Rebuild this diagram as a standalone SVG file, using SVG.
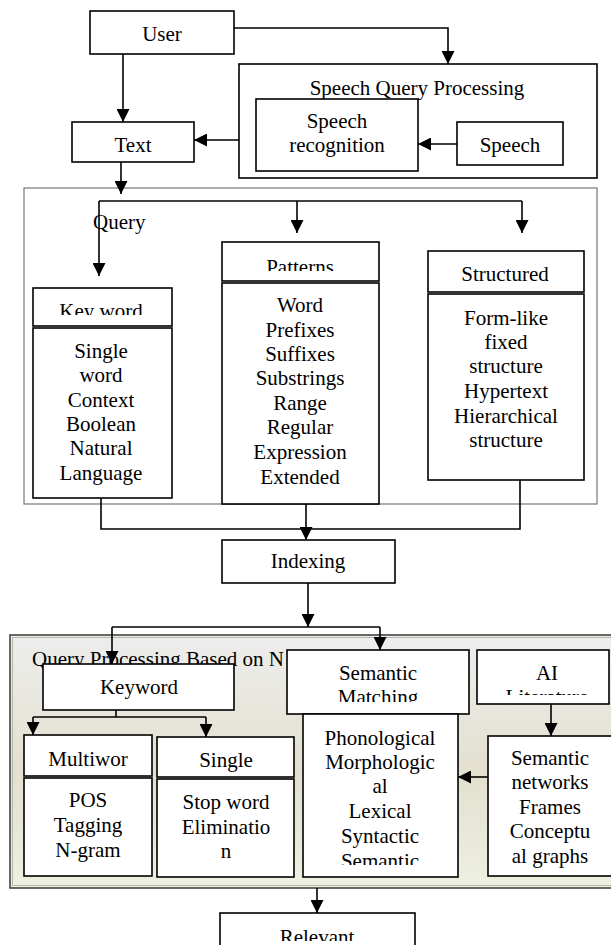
<svg xmlns="http://www.w3.org/2000/svg" width="611" height="945" viewBox="0 0 611 945">
<style>
  text { font-family: "Liberation Serif", "Times New Roman", serif; font-size: 21px; fill: #000; text-anchor: middle; }
  .box { fill: #fff; stroke: #000; stroke-width: 1.6; }
  .frame { fill: #fff; stroke: #777; stroke-width: 1.2; }
  .line { fill: none; stroke: #000; stroke-width: 1.6; }
  .arr { fill: none; stroke: #000; stroke-width: 1.6; marker-end: url(#ah); }
  .left { text-anchor: start; }
</style>
<defs>
  <marker id="ah" viewBox="0 0 10 10" refX="10" refY="5" markerWidth="13" markerHeight="13" markerUnits="userSpaceOnUse" orient="auto">
    <path d="M0,0 L10,5 L0,10 z" fill="#000"/>
  </marker>
  <linearGradient id="bg" x1="0" y1="0" x2="0" y2="1">
    <stop offset="0" stop-color="#ededed"/>
    <stop offset="0.55" stop-color="#e3e0cf"/>
    <stop offset="1" stop-color="#eef0e1"/>
  </linearGradient>
  <clipPath id="cKey"><rect x="33" y="288" width="139" height="27"/></clipPath>
  <clipPath id="cPat"><rect x="222" y="242" width="157" height="29"/></clipPath>
  <clipPath id="cMat"><rect x="287" y="650" width="182" height="52"/></clipPath>
  <clipPath id="cLit"><rect x="477" y="650" width="132" height="45"/></clipPath>
  <clipPath id="cPho"><rect x="303" y="714" width="155" height="151"/></clipPath>
  <clipPath id="cRel"><rect x="220" y="913" width="195" height="28"/></clipPath>
</defs>

<!-- Containers -->
<g id="speech-query-processing">
  <rect x="239" y="64" width="358" height="114" class="box"/>
  <text x="417" y="95">Speech Query Processing</text>
</g>
<g id="query">
  <rect x="24" y="188" width="573" height="316" class="frame"/>
  <text x="93" y="229" class="left">Query</text>
</g>
<g id="nlp-processing">
  <rect x="10" y="635" width="610" height="253" fill="url(#bg)" stroke="#444" stroke-width="1.6"/>
  <rect x="12.5" y="637.5" width="605" height="248" fill="none" stroke="#b5b5a8" stroke-width="1"/>
  <text x="32" y="666" class="left">Query Processing Based on N</text>
</g>

<!-- Connectors -->
<g id="connectors">
  <path d="M234,28 H448 V64" class="arr"/>
  <path d="M123,54 V122" class="arr"/>
  <path d="M239,140 H194" class="arr"/>
  <path d="M457,144 H418" class="arr"/>
  <path d="M121,162 V194" class="arr"/>
  <path d="M99,201 H522" class="line"/>
  <path d="M99,201 V276" class="arr"/>
  <path d="M297,201 V233" class="arr"/>
  <path d="M522,201 V233" class="arr"/>
  <path d="M101,498 V529 H520 V480" class="line"/>
  <path d="M306,504 V540" class="arr"/>
  <path d="M308,583 V627" class="arr"/>
  <path d="M112,627 H380" class="line"/>
  <path d="M112,627 V664" class="arr"/>
  <path d="M380,627 V650" class="arr"/>
  <path d="M116,710 V717" class="line"/>
  <path d="M33,717 H206" class="line"/>
  <path d="M33,717 V735" class="arr"/>
  <path d="M206,717 V737" class="arr"/>
  <path d="M551,704 V736" class="arr"/>
  <path d="M488,777 H458" class="arr"/>
  <path d="M317,888 V913" class="arr"/>
</g>

<!-- Nodes -->
<g id="user">
  <rect x="90" y="11" width="144" height="43" class="box"/>
  <text x="162" y="41">User</text>
</g>
<g id="text">
  <rect x="72" y="122" width="122" height="40" class="box"/>
  <text x="133" y="152">Text</text>
</g>
<g id="speech-recognition">
  <rect x="256" y="99" width="162" height="72" class="box"/>
  <text x="337" y="128">Speech</text>
  <text x="337" y="152">recognition</text>
</g>
<g id="speech">
  <rect x="457" y="122" width="106" height="43" class="box"/>
  <text x="510" y="152">Speech</text>
</g>

<g id="keyword-query">
  <rect x="33" y="288" width="139" height="38" class="box"/>
  <text x="101" y="318" clip-path="url(#cKey)">Key word</text>
  <rect x="33" y="328" width="139" height="170" class="box"/>
  <text x="101" y="358">Single</text>
  <text x="101" y="382">word</text>
  <text x="101" y="407">Context</text>
  <text x="101" y="431">Boolean</text>
  <text x="101" y="455">Natural</text>
  <text x="101" y="480">Language</text>
</g>
<g id="patterns">
  <rect x="222" y="242" width="157" height="39" class="box"/>
  <text x="300" y="274" clip-path="url(#cPat)">Patterns</text>
  <rect x="222" y="283" width="157" height="221" class="box"/>
  <text x="300" y="312">Word</text>
  <text x="300" y="337">Prefixes</text>
  <text x="300" y="361">Suffixes</text>
  <text x="300" y="385">Substrings</text>
  <text x="300" y="410">Range</text>
  <text x="300" y="434">Regular</text>
  <text x="300" y="459">Expression</text>
  <text x="300" y="484">Extended</text>
</g>
<g id="structured">
  <rect x="428" y="251" width="156" height="41" class="box"/>
  <text x="505" y="281">Structured</text>
  <rect x="428" y="294" width="156" height="186" class="box"/>
  <text x="506" y="325">Form-like</text>
  <text x="506" y="349">fixed</text>
  <text x="506" y="373">structure</text>
  <text x="506" y="398">Hypertext</text>
  <text x="506" y="423">Hierarchical</text>
  <text x="506" y="447">structure</text>
</g>
<g id="indexing">
  <rect x="222" y="540" width="173" height="43" class="box"/>
  <text x="308" y="568">Indexing</text>
</g>

<g id="keyword">
  <rect x="43" y="664" width="191" height="46" class="box"/>
  <text x="139" y="694">Keyword</text>
</g>
<g id="multiword">
  <rect x="24" y="735" width="128" height="41" class="box"/>
  <text x="88" y="766">Multiwor</text>
  <rect x="24" y="778" width="128" height="98" class="box"/>
  <text x="88" y="807">POS</text>
  <text x="88" y="832">Tagging</text>
  <text x="88" y="857">N-gram</text>
</g>
<g id="single">
  <rect x="157" y="737" width="137" height="40" class="box"/>
  <text x="226" y="767">Single</text>
  <rect x="157" y="779" width="137" height="98" class="box"/>
  <text x="226" y="809">Stop word</text>
  <text x="226" y="834">Eliminatio</text>
  <text x="226" y="858">n</text>
</g>
<g id="semantic-matching">
  <rect x="287" y="650" width="182" height="64" class="box"/>
  <text x="378" y="680">Semantic</text>
  <text x="378" y="704" clip-path="url(#cMat)">Matching</text>
  <rect x="303" y="714" width="155" height="163" class="box"/>
  <g clip-path="url(#cPho)">
    <text x="380" y="745">Phonological</text>
    <text x="380" y="769">Morphologic</text>
    <text x="380" y="793">al</text>
    <text x="380" y="818">Lexical</text>
    <text x="380" y="843">Syntactic</text>
    <text x="380" y="868">Semantic</text>
  </g>
</g>
<g id="ai-literature">
  <rect x="477" y="650" width="132" height="54" class="box"/>
  <text x="547" y="680">AI</text>
  <text x="547" y="704" clip-path="url(#cLit)">Literature</text>
</g>
<g id="semantic-networks">
  <rect x="488" y="736" width="130" height="140" class="box"/>
  <text x="550" y="765">Semantic</text>
  <text x="550" y="789">networks</text>
  <text x="550" y="814">Frames</text>
  <text x="550" y="838">Conceptu</text>
  <text x="550" y="863">al graphs</text>
</g>
<g id="relevant">
  <rect x="220" y="913" width="195" height="40" class="box"/>
  <text x="317" y="944" clip-path="url(#cRel)">Relevant</text>
</g>
</svg>
